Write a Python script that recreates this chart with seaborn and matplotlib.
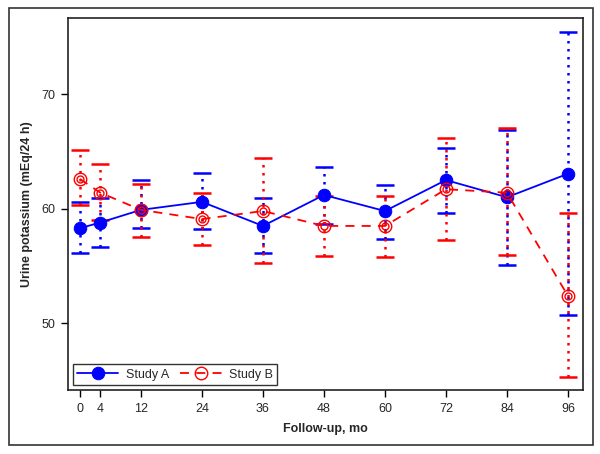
import matplotlib
matplotlib.use("Agg")
import matplotlib.pyplot as plt
import seaborn as sns
import pandas as pd
from matplotlib.patches import Rectangle

months = [0, 4, 12, 24, 36, 48, 60, 72, 84, 96]

a_mean = [58.3, 58.8, 59.9, 60.6, 58.5, 61.2, 59.8, 62.5, 61.0, 63.05]
a_low = [56.1, 56.7, 58.3, 58.2, 56.1, 58.7, 57.4, 59.6, 55.1, 50.7]
a_high = [60.6, 60.9, 62.5, 63.1, 60.9, 63.6, 62.1, 65.3, 66.9, 75.4]

b_mean = [62.6, 61.4, 59.9, 59.1, 59.8, 58.5, 58.5, 61.7, 61.4, 52.4]
b_low = [60.3, 59.0, 57.5, 56.8, 55.3, 55.9, 55.8, 57.3, 56.0, 45.3]
b_high = [65.1, 63.9, 62.2, 61.4, 64.4, 61.1, 61.1, 66.2, 67.0, 59.6]

series_names = ["Study A", "Study B"]
y_ticks = [50, 60, 70]

sns.set_style("white")
plt.rcParams["font.family"] = ["Liberation Sans", "DejaVu Sans"]

BLUE = "#0000ff"
RED = "#ff0000"

fig = plt.figure(figsize=(6.0, 4.54), dpi=100)
ax = fig.add_axes([67.7 / 600, 1 - 390 / 454, 515 / 600, (390 - 18.3) / 454])

df = pd.DataFrame({
    "month": months * 2,
    "value": a_mean + b_mean,
    "study": [series_names[0]] * len(months) + [series_names[1]] * len(months),
})

# error bars (dotted stems, solid caps)
for mean, lo, hi, col, z in [(a_mean, a_low, a_high, BLUE, 2), (b_mean, b_low, b_high, RED, 3)]:
    yerr = [[m - l for m, l in zip(mean, lo)], [h - m for m, h in zip(mean, hi)]]
    eb = ax.errorbar(months, mean, yerr=yerr, fmt="none", ecolor=col,
                     elinewidth=1.8, capsize=6.5, capthick=1.8, zorder=z)
    for lc in eb[2]:
        lc.set_linestyle((0, (1, 2.2)))

sns.lineplot(data=df[df.study == "Study A"], x="month", y="value", color=BLUE,
             linewidth=1.3, marker="o", markersize=9, markerfacecolor=BLUE,
             markeredgecolor=BLUE, ax=ax, zorder=4, label="Study A")
sns.lineplot(data=df[df.study == "Study B"], x="month", y="value", color=RED,
             linewidth=1.3, linestyle=(0, (5, 4)), marker="o", markersize=9,
             markerfacecolor="none", markeredgecolor=RED, markeredgewidth=1.0,
             ax=ax, zorder=5, label="Study B")
# inner ring of Study B markers
ax.plot(months, b_mean, linestyle="none", marker="o", markersize=5,
        markerfacecolor="none", markeredgecolor=RED, markeredgewidth=1.0, zorder=6)

ax.set_xlim(-2.4, 98.9)
ax.set_ylim(44.2, 76.6)
ax.set_xticks(months)
ax.set_xticklabels([str(m) for m in months], fontsize=9)
ax.set_yticks(y_ticks)
ax.set_yticklabels([str(t) for t in y_ticks], fontsize=9)
ax.tick_params(axis="both", which="both", direction="out", length=5, width=1,
               color="black", left=True, bottom=True, pad=4)
for sp in ax.spines.values():
    sp.set_color("#222222")
    sp.set_linewidth(1.2)

ax.set_xlabel("Follow-up, mo", fontsize=9, fontweight="bold", labelpad=6)
ax.set_ylabel("Urine potassium (mEq/24 h)", fontsize=9, fontweight="bold", labelpad=6)

leg = ax.legend(loc="lower left", ncol=2, frameon=True, fancybox=False,
                fontsize=9, handlelength=3.3, borderaxespad=0.4,
                columnspacing=0.9, borderpad=0.35, handletextpad=0.6)
leg.get_frame().set_edgecolor("black")
leg.get_frame().set_linewidth(1.0)

fig.patches.append(Rectangle((9 / 600, 1 - 445 / 454), (592.7 - 9) / 600, (445 - 8) / 454,
                             transform=fig.transFigure, fill=False,
                             edgecolor="#333333", linewidth=1.2))

fig.savefig("out.png", dpi=100)
